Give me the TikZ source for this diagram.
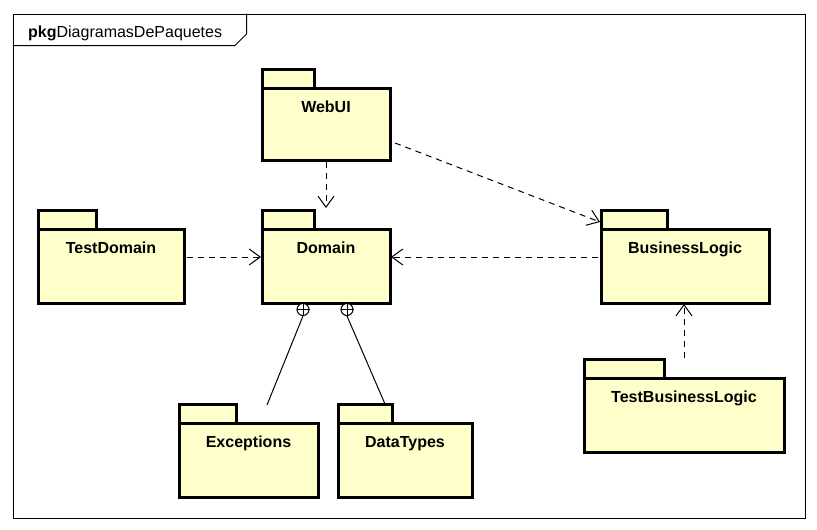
\documentclass[tikz,border=0pt]{standalone}
\usepackage{fontspec}
\setmainfont{Liberation Sans}
\usetikzlibrary{arrows.meta,calc}
\definecolor{pkgfill}{RGB}{255,255,204}
\tikzset{
  pkgbody/.style={draw=black, line width=3pt, fill=pkgfill, anchor=north west, inner sep=0pt, outer sep=0pt},
  pkgtab/.style={draw=black, line width=3pt, fill=pkgfill},
  pkglabel/.style={font=\fontsize{16}{18}\selectfont\bfseries, anchor=base, inner sep=0pt},
  dep/.style={draw=black, line width=1pt, dash pattern=on 6pt off 5pt, -{Straight Barb[length=11pt,width=16pt,line width=1pt]}},
  nestline/.style={draw=black, line width=1pt},
  nestcirc/.style={draw=black, line width=1pt, fill=white, circle, minimum size=12pt, inner sep=0pt},
  frameline/.style={draw=black, line width=1pt}
}
\newcommand\umlpkg[8]{% name, x, y (body top-left), w, h, tabw, label, tabh
  \draw[pkgtab] (#2,#3) rectangle ++(#6,-#8);
  \node[pkgbody, minimum width=#4pt, minimum height=#5pt] (#1) at (#2,#3) {};
  \node[pkglabel] (#1-lbl) at ($(#1.north)+(0,24)$) {#7};
}
\begin{document}
\begin{tikzpicture}[x=1pt,y=-1pt]
\useasboundingbox (0,0) rectangle (817,530);
% frame
\node[draw=black, line width=1pt, minimum width=792pt, minimum height=504pt, anchor=north west, inner sep=0pt] (frame) at (12.5,13.5) {};
\draw[frameline] (12.5,45.5) -- (235,45.5) -- (246.5,34) -- (246.5,13.5);
\node[anchor=base west, inner sep=0pt, font=\fontsize{16}{18}\selectfont] (title) at (28,37) {\textbf{pkg}DiagramasDePaquetes};
% packages
\umlpkg{webui}{262}{88}{128}{72}{52}{WebUI}{19}
\umlpkg{domain}{262}{229}{128}{74}{52}{Domain}{19}
\umlpkg{testdomain}{38}{229}{146}{74}{58}{TestDomain}{19}
\umlpkg{business}{601}{229}{168}{74}{66}{BusinessLogic}{19}
\umlpkg{testbusiness}{584}{378}{200}{74}{80}{TestBusinessLogic}{19}
\umlpkg{exceptions}{179}{423}{139}{74}{57}{Exceptions}{19}
\umlpkg{datatypes}{338}{423}{134}{74}{54}{DataTypes}{19}
% connector endpoints
\coordinate (w1) at (326,162);
\coordinate (d1) at (326,208);
\coordinate (w2) at (395,143);
\coordinate (b1) at (600,222);
\coordinate (td1) at (187,257);
\coordinate (d2) at (261,257);
\coordinate (b2) at (598,257);
\coordinate (d3) at (391,257);
\coordinate (tb1) at (684,358);
\coordinate (b3) at (684,304);
\draw[dep] (w1) -- (d1);
\draw[dep] (w2) -- (b1);
\draw[dep] (td1) -- (d2);
\draw[dep] (b2) -- (d3);
\draw[dep] (tb1) -- (b3);
% nesting
\node[nestcirc] (n1) at (303,309.5) {};
\node[nestcirc] (n2) at (347,309.5) {};
\draw[nestline] (n1.west) -- (n1.east) (n1.north) -- (n1.south);
\draw[nestline] (n2.west) -- (n2.east) (n2.north) -- (n2.south);
\coordinate (e1) at (267,405);
\coordinate (dt1) at (385,404);
\draw[nestline] (n1.south) -- (e1);
\draw[nestline] (n2.south) -- (dt1);
\end{tikzpicture}
\end{document}
